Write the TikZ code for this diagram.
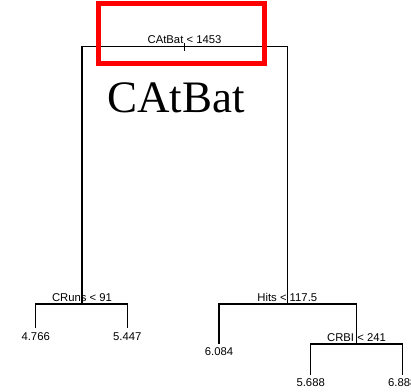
\documentclass[tikz,border=0pt]{standalone}
\usepackage{fontspec}
\setmainfont{Liberation Sans}
\newfontfamily\bigserif{Liberation Serif}
\usepackage{tikz}
\usetikzlibrary{positioning}
\usepackage{xcolor}
\definecolor{markred}{HTML}{FF0000}

\begin{document}
\begin{tikzpicture}[
    x=1pt, y=-1pt,
    branch/.style={line width=1.3pt, black},
    split/.style={font=\fontsize{11.3}{13}\selectfont, anchor=base, inner sep=0pt},
    leaf/.style={font=\fontsize{11.3}{13}\selectfont, anchor=base, inner sep=0pt},
    highlight/.style={draw=markred, line width=5pt}
  ]
    \useasboundingbox (0,0) rectangle (411,391);
    \coordinate (root) at (184.5,46.5);
    \coordinate (cruns) at (82,304);
    \coordinate (hits) at (287.3,304);
    \coordinate (crbi) at (356.5,344);
    \coordinate (l1) at (35.7,328);
    \coordinate (l2) at (127.3,328);
    \coordinate (l3) at (219,344);
    \coordinate (l4) at (310.7,375);
    \coordinate (l5) at (402.3,375);
    \draw[branch] (cruns) |- (root) -| (hits);
    \draw[branch] (root) ++(0,-3.5) -- ++(0,8);
    \draw[branch] (l1) |- (cruns) -| (l2);
    \draw[branch] (l3) |- (hits) -| (crbi);
    \draw[branch] (l4) |- (crbi) -| (l5);
    \node[split, yshift=3.5pt] (troot) at (root) {CAtBat < 1453};
    \node[split, yshift=2.5pt] (tcruns) at (cruns) {CRuns < 91};
    \node[split, yshift=2.5pt] (thits) at (hits) {Hits < 117.5};
    \node[split, yshift=2.5pt] (tcrbi) at (crbi) {CRBI < 241};
    \node[leaf, yshift=-12.5pt] (v1) at (l1) {4.766};
    \node[leaf, yshift=-12.5pt] (v2) at (l2) {5.447};
    \node[leaf, yshift=-11pt] (v3) at (l3) {6.084};
    \node[leaf, yshift=-11pt] (v4) at (l4) {5.688};
    \node[leaf, yshift=-11pt] (v5) at (l5) {6.888};
    \node[font=\bigserif\fontsize{45}{50}\selectfont, anchor=base, inner sep=0pt]
      (title) at (176,112) {CAtBat};
    \draw[highlight] (98,3.5) rectangle (264,63.5);
  \end{tikzpicture}
\end{document}
